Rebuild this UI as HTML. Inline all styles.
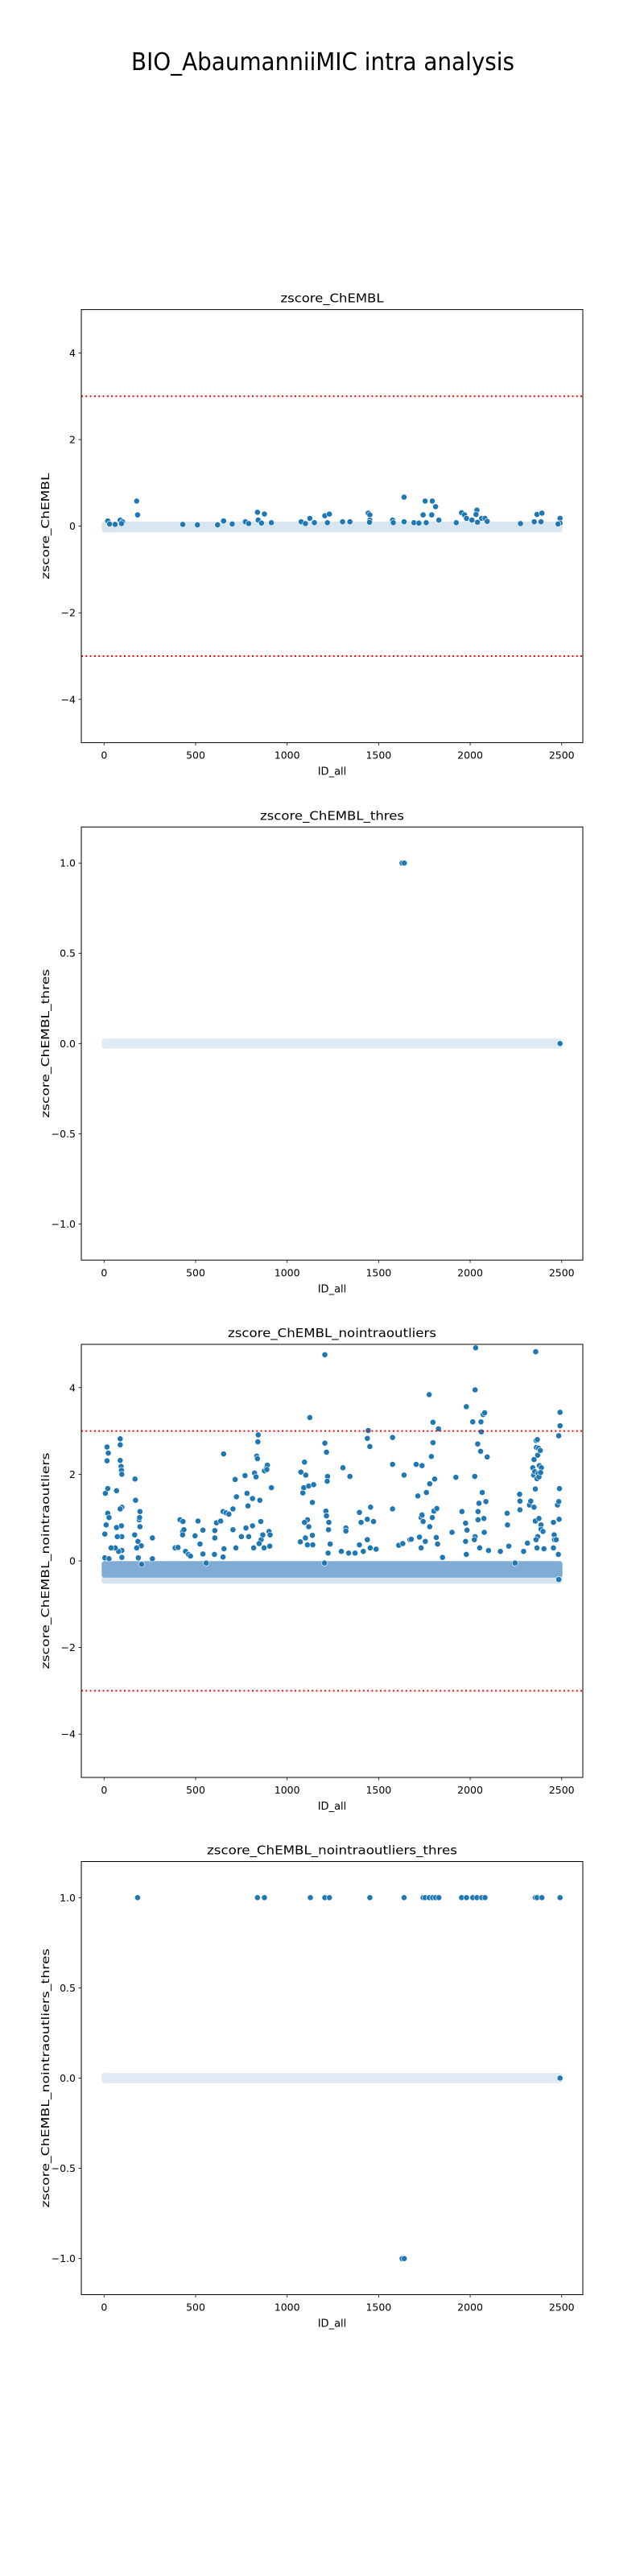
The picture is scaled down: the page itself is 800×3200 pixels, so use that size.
<!DOCTYPE html>
<html><head><meta charset="utf-8"><title>BIO_AbaumanniiMIC intra analysis</title>
<style>html,body{margin:0;padding:0;background:#fff}svg{display:block}text{font-family:"DejaVu Sans","Liberation Sans",sans-serif;fill:#000}</style>
</head><body>
<svg id="fig" width="800" height="3200" viewBox="0 0 800 3200" xmlns="http://www.w3.org/2000/svg">
<rect width="800" height="3200" fill="#fff"/>
<text x="401" y="87" font-size="30" text-anchor="middle" textLength="476" lengthAdjust="spacingAndGlyphs">BIO_AbaumanniiMIC intra analysis</text>
</svg>
<script>
// ---- data ----
const xTicks = [0, 500, 1000, 1500, 2000, 2500];
const yTicksZ = [-4, -2, 0, 2, 4];
const yTickLabelsZ = ["\u22124", "\u22122", "0", "2", "4"];
const yTicksT = [-1.0, -0.5, 0.0, 0.5, 1.0];
const yTickLabelsT = ["\u22121.0", "\u22120.5", "0.0", "0.5", "1.0"];
const thresholdLines = [3, -3];

// chart 1: zscore_ChEMBL
const c1x = [178,183,838,842,876,914,653,1124,1206,1231,1149,1443,1452,1452,1576,1639,1639,1743,1754,1793,1790,1811,1829,1924,1953,1969,1980,2037,2032,2010,2063,2081,2093,2365,2392,2387,2491,2491,20,88,101,772,1077,1343,1303,1693,2275,30,60,95,430,510,620,700,790,860,1100,1220,1450,1580,1720,1760,2040,2350,2480];
const c1y = [0.58,0.26,0.32,0.14,0.28,0.08,0.12,0.18,0.24,0.28,0.08,0.30,0.26,0.14,0.14,0.67,0.10,0.26,0.58,0.58,0.26,0.45,0.14,0.08,0.31,0.26,0.18,0.37,0.27,0.14,0.18,0.18,0.11,0.27,0.30,0.10,0.18,0.07,0.12,0.14,0.10,0.10,0.10,0.10,0.10,0.08,0.06,0.05,0.04,0.06,0.04,0.03,0.03,0.05,0.06,0.07,0.06,0.08,0.09,0.08,0.07,0.08,0.09,0.10,0.05];
const c1Band = [-0.09, 0.05];

// chart 2: zscore_ChEMBL_thres
const c2x = [1628, 1640, 2491];
const c2y = [1, 1, 0];
const c2Band = [-0.015, 0.015];

// chart 3: zscore_ChEMBL_nointraoutliers
const c3x = [7,16,16,23,20,4,20,27,11,4,27,68,68,88,88,88,93,95,97,97,88,95,97,97,97,72,79,61,38,
169,172,167,185,192,194,196,196,203,178,187,205,264,264,
388,404,415,431,429,436,429,445,461,472,497,513,524,540,540,558,
605,605,614,637,653,650,666,682,655,650,603,704,704,716,723,720,
770,781,786,775,790,750,811,811,822,830,834,838,840,842,851,856,858,867,817,847,876,887,892,889,901,907,905,914,874,
1075,1086,1091,1095,1102,1118,1124,1145,1138,1111,1118,1095,1100,1111,1138,1072,1140,
1206,1206,1215,1221,1219,1212,1215,1228,1226,1235,1224,1204,
1305,1343,1321,1321,1296,1336,1371,
1395,1404,1395,1438,1438,1443,1438,1452,1456,1472,1454,1486,1416,
1576,1576,1576,1610,1632,1639,1671,1678,
1705,1714,1737,1723,1732,1737,1743,1732,1761,1755,1776,1779,1779,1788,1793,1797,1797,1806,1802,1818,1815,1827,1822,1849,
1901,1922,1955,1975,1979,1983,1975,1979,2014,2025,2027,2030,2027,2041,2043,2048,2043,2057,2059,2061,2071,2079,2066,2075,2077,2086,2093,2100,2023,2052,
2165,2202,2204,2211,2245,
2270,2272,2272,2292,2313,2324,2331,2342,2349,2347,2353,2349,2356,2358,2360,2367,2362,2369,2365,2371,2376,2374,2378,2383,2389,2385,2369,2360,2356,2376,2387,2387,2398,2365,2403,
2455,2459,2461,2470,2477,2484,2488,2491,2491,2484,2486,2482,2484,2455];
const c3y = [1.56,2.63,2.31,2.49,1.67,0.62,1.10,1.00,0.83,0.07,0.05,1.62,0.77,2.82,2.68,2.32,2.18,2.09,2.00,1.24,1.20,0.81,0.56,0.24,0.08,0.56,0.22,0.30,0.30,
1.89,1.40,0.60,0.45,0.95,1.00,1.14,0.79,0.35,0.30,0.07,-0.08,0.53,0.05,
0.30,0.31,0.95,0.91,0.68,0.72,0.60,0.22,0.15,0.11,0.58,0.92,0.39,0.71,0.16,-0.05,
0.70,0.53,0.88,0.92,2.47,1.14,1.11,1.08,0.28,0.09,0.15,1.20,0.72,1.88,1.48,0.30,
1.97,1.56,1.27,0.76,0.56,0.56,1.44,0.81,2.03,1.94,2.42,2.36,2.75,2.91,1.40,0.91,0.49,0.60,0.30,0.40,2.08,2.15,2.21,2.11,0.68,0.60,0.34,1.69,0.30,
2.05,1.57,1.69,2.28,1.98,1.73,3.31,1.76,1.35,0.95,0.79,0.89,0.53,0.37,0.59,0.44,0.37,
4.76,2.72,2.51,1.95,1.84,1.15,1.04,0.89,0.72,0.39,0.18,-0.05,
2.15,1.95,0.76,0.69,0.22,0.18,0.18,
1.12,0.89,0.37,0.96,0.49,3.01,2.83,2.64,1.24,0.91,0.30,0.27,0.22,
2.85,2.23,1.20,0.36,0.40,1.98,0.49,0.50,
2.23,1.50,2.20,0.55,1.00,1.06,0.91,0.30,1.58,0.45,3.84,1.78,0.79,2.41,1.00,2.73,3.20,1.89,1.15,1.21,0.54,3.05,0.39,0.08,
0.66,1.93,1.14,0.87,3.56,0.71,0.45,0.15,3.21,1.95,3.95,4.92,0.56,2.70,1.14,1.33,0.95,2.53,3.21,2.98,3.38,3.42,1.58,0.98,0.66,1.37,2.40,0.24,0.49,0.30,
0.22,1.10,0.83,0.34,-0.05,
1.54,1.38,1.18,0.22,0.41,1.29,1.38,2.15,2.34,1.98,2.06,1.24,1.66,4.83,2.78,2.80,2.62,2.44,1.90,2.02,1.94,2.60,2.20,2.55,2.15,2.04,0.56,0.49,0.92,0.98,0.83,0.73,0.68,0.30,0.28,
0.89,0.60,0.49,0.49,1.29,1.37,1.67,3.43,3.12,2.89,0.96,0.15,-0.43,0.30];
const c3BandDark = [-0.33, -0.06];
const c3BandLight = [-0.47, -0.28];

// chart 4: zscore_ChEMBL_nointraoutliers_thres
const c4x = [183,838,876,1127,1206,1231,1452,1639,1743,1754,1776,1795,1811,1829,1953,1980,2014,2037,2063,2081,2356,2365,2392,2491,1628,1640,2491];
const c4y = [1,1,1,1,1,1,1,1,1,1,1,1,1,1,1,1,1,1,1,1,1,1,1,1,-1,-1,0];
const c4Band = [-0.015, 0.015];

const idRange = [0, 2491];

// ---- layout ----
const NS = "http://www.w3.org/2000/svg";
const svg = document.getElementById('fig');
const AX_L = 101, AX_R = 724, AX_H = 538;
const XMIN = -124.5, XMAX = 2615.5;

function mk(tag, attrs, parent) {
  const e = document.createElementNS(NS, tag);
  for (const k in attrs) e.setAttribute(k, attrs[k]);
  (parent || svg).appendChild(e);
  return e;
}

function drawPanel(top, title, titleLen, ylabel, ylabelLen, ylim, yTicks, yLabels, xs, ys, bands, hasThresh) {
  const g = mk('g', {});
  
  
  const bot = top + AX_H;
  const sx = v => AX_L + (v - XMIN) / (XMAX - XMIN) * (AX_R - AX_L);
  const sy = v => bot - (v - ylim[0]) / (ylim[1] - ylim[0]) * AX_H;

  bands.forEach(b => {
    const r = mk('rect', {x: sx(idRange[0]) - 3, y: sy(b.range[1]) - 3, width: sx(idRange[1]) - sx(idRange[0]) + 6, height: sy(b.range[0]) - sy(b.range[1]) + 6, rx: 3.5, fill: b.color}, g);
    
    
  });

  for (let i = 0; i < xs.length; i++) {
    const c = mk('circle', {cx: sx(xs[i]), cy: sy(ys[i]), r: 3.6, fill: '#1f77b4', stroke: '#fff', 'stroke-width': 0.6}, g);
    
    
  }

  if (hasThresh) {
    thresholdLines.forEach(t => {
      const l = mk('line', {x1: AX_L, x2: AX_R, y1: sy(t), y2: sy(t), stroke: '#ff0000', 'stroke-width': 2, 'stroke-dasharray': '2,3.3'}, g);
      
      
    });
  }

  const fr = mk('rect', {x: AX_L, y: top, width: AX_R - AX_L, height: AX_H, fill: 'none', stroke: '#000', 'stroke-width': 1}, g);
  
  

  xTicks.forEach(t => {
    const x = sx(t);
    const tk = mk('line', {x1: x, x2: x, y1: bot, y2: bot + 3.5, stroke: '#000', 'stroke-width': 0.8}, g);
    
    
    const tl = mk('text', {x: x, y: bot + 20, 'font-size': 12.5, 'text-anchor': 'middle'}, g);
    
    
    tl.textContent = String(t);
  });
  yTicks.forEach((t, i) => {
    const y = sy(t);
    const tk = mk('line', {x1: AX_L - 3.5, x2: AX_L, y1: y, y2: y, stroke: '#000', 'stroke-width': 0.8}, g);
    
    
    const tl = mk('text', {x: AX_L - 7, y: y + 4.5, 'font-size': 12.5, 'text-anchor': 'end'}, g);
    
    
    tl.textContent = yLabels[i];
  });
  const tt = mk('text', {x: (AX_L + AX_R) / 2, y: top - 9, 'font-size': 15, 'text-anchor': 'middle', textLength: titleLen, lengthAdjust: 'spacingAndGlyphs'}, g);
  
  
  tt.textContent = title;
  const xl = mk('text', {x: (AX_L + AX_R) / 2, y: bot + 40, 'font-size': 13, 'text-anchor': 'middle'}, g);
  
  
  xl.textContent = 'ID_all';
  const cy = top + AX_H / 2;
  const yl = mk('text', {x: 0, y: 0, 'font-size': 13, 'text-anchor': 'middle', transform: 'translate(61,' + cy + ') rotate(-90)', textLength: ylabelLen, lengthAdjust: 'spacingAndGlyphs'}, g);
  
  
  yl.textContent = ylabel;
}

drawPanel(384.6, 'zscore_ChEMBL', 128, 'zscore_ChEMBL', 132, [-5, 5], yTicksZ, yTickLabelsZ, c1x, c1y,
  [{range: c1Band, color: '#d8e6f2'}], true);
drawPanel(1027.3, 'zscore_ChEMBL_thres', 179, 'zscore_ChEMBL_thres', 185, [-1.2, 1.2], yTicksT, yTickLabelsT, c2x, c2y,
  [{range: c2Band, color: '#e0eaf4'}], false);
drawPanel(1670, 'zscore_ChEMBL_nointraoutliers', 259, 'zscore_ChEMBL_nointraoutliers', 269, [-5, 5], yTicksZ, yTickLabelsZ, c3x, c3y,
  [{range: c3BandLight, color: '#d5e4f1'}, {range: c3BandDark, color: '#7fabd5'}], true);
drawPanel(2312.5, 'zscore_ChEMBL_nointraoutliers_thres', 311, 'zscore_ChEMBL_nointraoutliers_thres', 322, [-1.2, 1.2], yTicksT, yTickLabelsT, c4x, c4y,
  [{range: c4Band, color: '#e0eaf4'}], false);
</script>
</body></html>
